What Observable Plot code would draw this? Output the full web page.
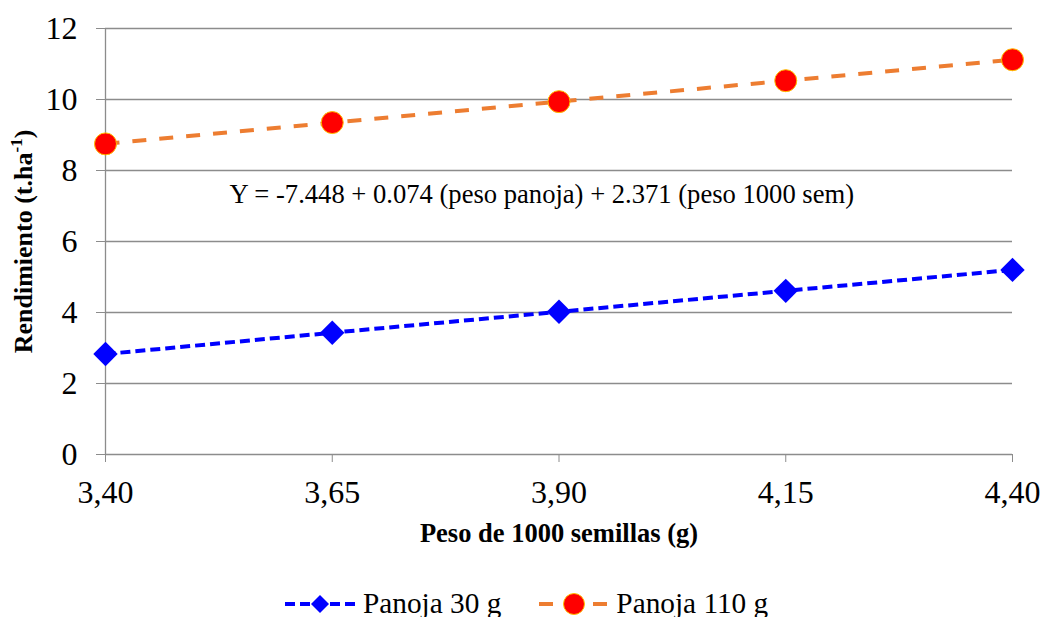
<!DOCTYPE html>
<html><head><meta charset="utf-8">
<script src="https://cdn.jsdelivr.net/npm/d3@7"></script>
<script src="https://cdn.jsdelivr.net/npm/@observablehq/plot@0.6"></script>
<style>
body{margin:0;background:#fff;font-family:"Liberation Serif","Times New Roman",serif;}
#chart svg{display:block;}
#legend{display:flex;align-items:center;height:27px;line-height:27px;font-size:29.3px;color:#000;padding-left:285px;margin-top:0px;white-space:nowrap;}
#legend .item{display:flex;align-items:center;}
#legend svg{display:block;margin-right:8px;}
</style></head><body>
<div id="chart"></div>
<div id="legend"></div>
<script>
const pesoSemillas = [3.40, 3.65, 3.90, 4.15, 4.40];
const xTickLabels = ["3,40", "3,65", "3,90", "4,15", "4,40"];
const panoja30 = [2.83, 3.43, 4.02, 4.61, 5.20];
const panoja110 = [8.75, 9.35, 9.94, 10.53, 11.12];
const seriesNames = ["Panoja 30 g", "Panoja 110 g"];
const yTicks = [0, 2, 4, 6, 8, 10, 12];
const xLabel = "Peso de 1000 semillas (g)";
const yLabel = "Rendimiento (t.ha-1)";
const equation = "Y = -7.448 + 0.074 (peso panoja) + 2.371 (peso 1000 sem)";

const d30 = pesoSemillas.map((x, i) => ({x, y: panoja30[i], s: seriesNames[0]}));
const d110 = pesoSemillas.map((x, i) => ({x, y: panoja110[i], s: seriesNames[1]}));

const grid = "#8c8c8c";
const font = '"Liberation Serif", "Times New Roman", serif';

const chart = Plot.plot({
  width: 1043, height: 590,
  marginLeft: 105, marginRight: 31, marginTop: 28, marginBottom: 136,
  style: {fontFamily: font, background: "#fff", color: "#000"},
  x: {domain: [3.40, 4.40]},
  y: {domain: [0, 12]},
  marks: [
    Plot.ruleY(yTicks, {stroke: grid, strokeWidth: 1.3}),
    Plot.ruleX([pesoSemillas[0]], {y1: 0, y2: 12, stroke: grid, strokeWidth: 1.3}),
    Plot.axisY({ticks: yTicks, tickSize: 9, tickPadding: 19, stroke: grid, fill: "#000", fontSize: 32, label: null}),
    Plot.axisX({ticks: pesoSemillas, tickSize: 8, tickPadding: 18, stroke: grid, fill: "#000", fontSize: 32, label: null,
      tickFormat: d => xTickLabels[pesoSemillas.findIndex(v => Math.abs(v - d) < 1e-9)]}),
    Plot.text([xLabel], {frameAnchor: "bottom", dy: 87, fontSize: 26.5, fontWeight: "bold", fill: "#000"}),
    Plot.text([yLabel], {frameAnchor: "left", textAnchor: "middle", dx: -82, rotate: -90, fontSize: 26, fontWeight: "bold", fill: "#000"}),
    Plot.text([equation], {x: () => 3.881, y: () => 7.32, fontSize: 26.6, fill: "#000"}),
    Plot.line(d30, {x: "x", y: "y", stroke: "#0000FF", strokeWidth: 4, strokeDasharray: "10,5", strokeLinecap: "butt"}),
    Plot.line(d110, {x: "x", y: "y", stroke: "#ED7D31", strokeWidth: 4, strokeDasharray: "14,13", strokeLinecap: "butt"}),
    Plot.dot(d30, {x: "x", y: "y", symbol: "diamond2", r: 11, fill: "#0000FF", stroke: "none"}),
    Plot.dot(d110, {x: "x", y: "y", symbol: "circle", r: 11, fill: "#FF0000", stroke: "#FFC000", strokeWidth: 1})
  ]
});
document.getElementById("chart").appendChild(chart);

// superscript in y label
d3.select(chart).selectAll("text").filter(function() { return this.textContent === yLabel; }).each(function() {
  const t = d3.select(this);
  t.text(null);
  t.append("tspan").text("Rendimiento (t.ha");
  t.append("tspan").attr("dy", -10).attr("font-size", 17).text("-1");
  t.append("tspan").attr("dy", 10).text(")");
});

// legend
const legend = d3.select("#legend");
const it1 = legend.append("div").attr("class", "item");
const s1 = it1.append("svg").attr("width", 70).attr("height", 24);
s1.append("line").attr("x1", 0).attr("x2", 70).attr("y1", 12).attr("y2", 12).attr("stroke", "#0000FF").attr("stroke-width", 4).attr("stroke-dasharray", "10,5");
s1.append("path").attr("d", "M35,3 L44,12 L35,21 L26,12 Z").attr("fill", "#0000FF");
it1.append("span").text(seriesNames[0]);
const it2 = legend.append("div").attr("class", "item").style("margin-left", "38px");
const s2 = it2.append("svg").attr("width", 69).attr("height", 24);
s2.append("line").attr("x1", 0).attr("x2", 69).attr("y1", 12).attr("y2", 12).attr("stroke", "#ED7D31").attr("stroke-width", 4).attr("stroke-dasharray", "14,13");
s2.append("circle").attr("cx", 35).attr("cy", 12).attr("r", 10.5).attr("fill", "#FF0000").attr("stroke", "#FFC000").attr("stroke-width", 1);
it2.append("span").text(seriesNames[1]);
</script>
</body></html>
